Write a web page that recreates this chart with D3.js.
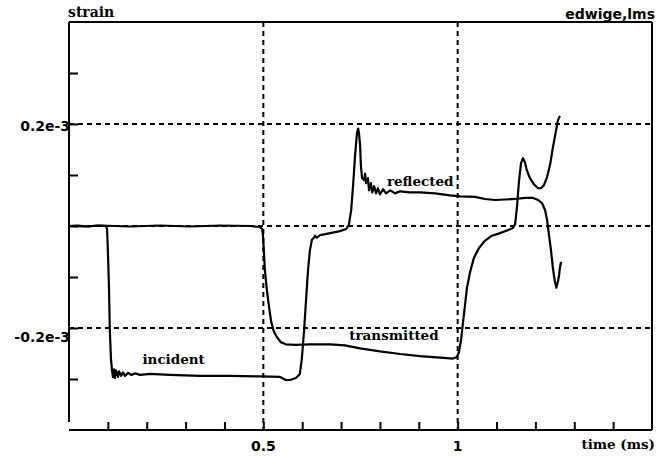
<!DOCTYPE html>
<html>
<head>
<meta charset="utf-8">
<script src="https://cdn.jsdelivr.net/npm/d3@7"></script>
<style>
  html, body { margin: 0; padding: 0; background: #fff; }
  svg { display: block; }
  .lbl { font-family: "DejaVu Serif", serif; font-weight: bold; fill: #000; }
  .num { font-family: "DejaVu Sans", sans-serif; font-weight: bold; fill: #000; }
</style>
</head>
<body>
<svg id="chart" width="672" height="456"></svg>
<script>
// time in ms, strain in units of 1e-3
const incidentReflected = [
  [0, 0], [0.023, 0.001], [0.049, -0.001], [0.072, 0.001], [0.095, 0],
  [0.098, -0.006], [0.100, -0.047], [0.103, -0.125], [0.105, -0.203], [0.108, -0.261],
  [0.111, -0.285], [0.113, -0.296], [0.116, -0.281], [0.118, -0.298], [0.121, -0.283],
  [0.126, -0.296], [0.129, -0.285], [0.134, -0.294], [0.139, -0.287], [0.144, -0.294],
  [0.152, -0.288], [0.160, -0.292], [0.170, -0.289], [0.183, -0.292], [0.208, -0.290],
  [0.260, -0.292], [0.337, -0.294], [0.414, -0.294], [0.491, -0.295], [0.543, -0.296],
  [0.558, -0.302], [0.569, -0.302], [0.584, -0.298], [0.594, -0.290], [0.599, -0.261],
  [0.605, -0.203], [0.610, -0.144], [0.615, -0.086], [0.620, -0.047], [0.625, -0.027],
  [0.630, -0.023], [0.633, -0.019], [0.638, -0.023], [0.646, -0.018], [0.672, -0.014],
  [0.697, -0.010], [0.713, -0.006], [0.720, 0.002], [0.726, 0.031], [0.731, 0.080],
  [0.736, 0.138], [0.741, 0.183], [0.744, 0.191], [0.746, 0.183], [0.749, 0.158],
  [0.751, 0.119], [0.754, 0.094], [0.759, 0.090], [0.762, 0.103], [0.764, 0.084],
  [0.769, 0.094], [0.772, 0.070], [0.777, 0.084], [0.780, 0.066], [0.785, 0.078],
  [0.790, 0.064], [0.795, 0.074], [0.800, 0.062], [0.808, 0.072], [0.816, 0.064],
  [0.826, 0.070], [0.839, 0.064], [0.852, 0.068], [0.877, 0.066], [0.903, 0.066],
  [0.942, 0.064], [0.980, 0.060], [1.006, 0.058], [1.045, 0.057], [1.070, 0.053],
  [1.096, 0.051], [1.122, 0.052], [1.148, 0.053], [1.173, 0.055], [1.194, 0.055],
  [1.207, 0.051], [1.217, 0.045], [1.225, 0.031], [1.230, 0.012], [1.235, -0.018],
  [1.240, -0.047], [1.245, -0.082], [1.250, -0.109], [1.254, -0.121], [1.258, -0.109],
  [1.261, -0.096], [1.263, -0.082], [1.266, -0.070]
];

const transmitted = [
  [0, 0], [0.041, -0.001], [0.080, 0.001], [0.157, -0.001], [0.234, 0.001],
  [0.311, -0.001], [0.389, 0.001], [0.466, 0], [0.491, -0.002], [0.497, -0.006],
  [0.499, -0.018], [0.502, -0.057], [0.504, -0.086], [0.509, -0.125], [0.515, -0.160],
  [0.520, -0.187], [0.527, -0.207], [0.535, -0.218], [0.545, -0.228], [0.558, -0.232],
  [0.581, -0.233], [0.620, -0.232], [0.672, -0.232], [0.710, -0.234], [0.749, -0.240],
  [0.800, -0.246], [0.852, -0.251], [0.903, -0.255], [0.955, -0.258], [0.988, -0.260],
  [0.998, -0.257], [1.003, -0.248], [1.009, -0.222], [1.014, -0.187], [1.019, -0.154],
  [1.024, -0.121], [1.032, -0.090], [1.042, -0.062], [1.055, -0.043], [1.070, -0.029],
  [1.088, -0.019], [1.109, -0.014], [1.130, -0.008], [1.142, -0.004], [1.148, 0.004],
  [1.153, 0.041], [1.158, 0.090], [1.163, 0.123], [1.168, 0.133], [1.173, 0.125],
  [1.178, 0.109], [1.186, 0.094], [1.196, 0.082], [1.207, 0.074], [1.214, 0.074],
  [1.222, 0.080], [1.230, 0.096], [1.238, 0.121], [1.245, 0.154], [1.253, 0.187],
  [1.258, 0.207], [1.263, 0.216]
];

const xTicks = [0.1, 0.2, 0.3, 0.4, 0.5, 0.6, 0.7, 0.8, 0.9, 1, 1.1, 1.2, 1.3, 1.4];
const yTicks = [-0.3, -0.2, -0.1, 0, 0.1, 0.2, 0.3];
const xGrid = [0.5, 1];
const yGrid = [-0.2, 0, 0.2];
const xTickLabels = [[0.5, "0.5"], [1, "1"]];
const yTickLabels = [[0.2, "0.2e-3"], [-0.2, "-0.2e-3"]];
const curveLabels = [
  ["incident", 0.189, -0.270],
  ["reflected", 0.818, 0.078],
  ["transmitted", 0.721, -0.223]
];

(function draw() {
  const svg = d3.select("#chart");
  const pLeft = 69, pRight = 652, pTop = 22, pBottom = 430;

  const x = d3.scaleLinear().domain([0, 1.5]).range([pLeft, pRight]);
  const y = d3.scaleLinear().domain([-0.4, 0.4]).range([pBottom, pTop]);

  // dashed grid
  svg.append("g").selectAll("line").data(yGrid).join("line")
    .attr("x1", pLeft).attr("x2", pRight)
    .attr("y1", d => y(d)).attr("y2", d => y(d))
    .attr("stroke", "#000").attr("stroke-width", 2).attr("stroke-dasharray", "5,4");
  svg.append("g").selectAll("line").data(xGrid).join("line")
    .attr("x1", d => x(d)).attr("x2", d => x(d))
    .attr("y1", pTop).attr("y2", pBottom)
    .attr("stroke", "#000").attr("stroke-width", 2).attr("stroke-dasharray", "5,4");

  // tick marks pointing into the plot
  const yAxis = svg.append("g").attr("transform", `translate(${pLeft},0)`)
    .call(d3.axisRight(y).tickValues(yTicks).tickSize(9).tickFormat(""));
  yAxis.select(".domain").remove();
  yAxis.selectAll("line").attr("stroke-width", 2);

  const xAxis = svg.append("g").attr("transform", `translate(0,${pBottom})`)
    .call(d3.axisTop(x).tickValues(xTicks).tickSize(8).tickFormat(""));
  xAxis.select(".domain").remove();
  xAxis.selectAll("line").attr("stroke-width", 2);

  // frame
  const frame = svg.append("g").attr("stroke", "#000").attr("stroke-width", 2)
    .attr("shape-rendering", "crispEdges");
  frame.append("line").attr("x1", pLeft).attr("x2", pRight).attr("y1", pTop).attr("y2", pTop);
  frame.append("line").attr("x1", pRight).attr("x2", pRight).attr("y1", pTop).attr("y2", pBottom);
  frame.append("line").attr("x1", pLeft).attr("x2", pRight).attr("y1", pBottom).attr("y2", pBottom);
  frame.append("line").attr("x1", pLeft).attr("x2", pLeft).attr("y1", pTop).attr("y2", pBottom - 8);

  // signals
  const line = d3.line().x(d => x(d[0])).y(d => y(d[1]));
  [incidentReflected, transmitted].forEach(series => {
    svg.append("path").datum(series)
      .attr("d", line)
      .attr("fill", "none").attr("stroke", "#000")
      .attr("stroke-width", 2.2).attr("stroke-linejoin", "round");
  });

  // axis labels
  svg.append("g").selectAll("text").data(yTickLabels).join("text")
    .attr("class", "num").attr("font-size", 14)
    .attr("text-anchor", "end")
    .attr("x", pLeft + 1)
    .attr("y", d => y(d[0]) + (d[0] > 0 ? 7 : 13.5))
    .text(d => d[1]);
  svg.append("g").selectAll("text").data(xTickLabels).join("text")
    .attr("class", "num").attr("font-size", 14)
    .attr("text-anchor", "middle")
    .attr("x", d => x(d[0]))
    .attr("y", 451)
    .text(d => d[1]);

  svg.append("text").attr("class", "lbl").attr("font-size", 14)
    .attr("x", 68).attr("y", 17).text("strain");
  svg.append("text").attr("class", "num").attr("font-size", 14)
    .attr("text-anchor", "end").attr("x", 655).attr("y", 19).text("edwige,lms");
  svg.append("text").attr("class", "lbl").attr("font-size", 13.5)
    .attr("text-anchor", "end").attr("x", 655).attr("y", 449).text("time (ms)");

  // curve names
  svg.append("g").selectAll("text").data(curveLabels).join("text")
    .attr("class", "lbl").attr("font-size", 13.5)
    .attr("x", d => x(d[1])).attr("y", d => y(d[2]))
    .text(d => d[0]);
})();
</script>
</body>
</html>
